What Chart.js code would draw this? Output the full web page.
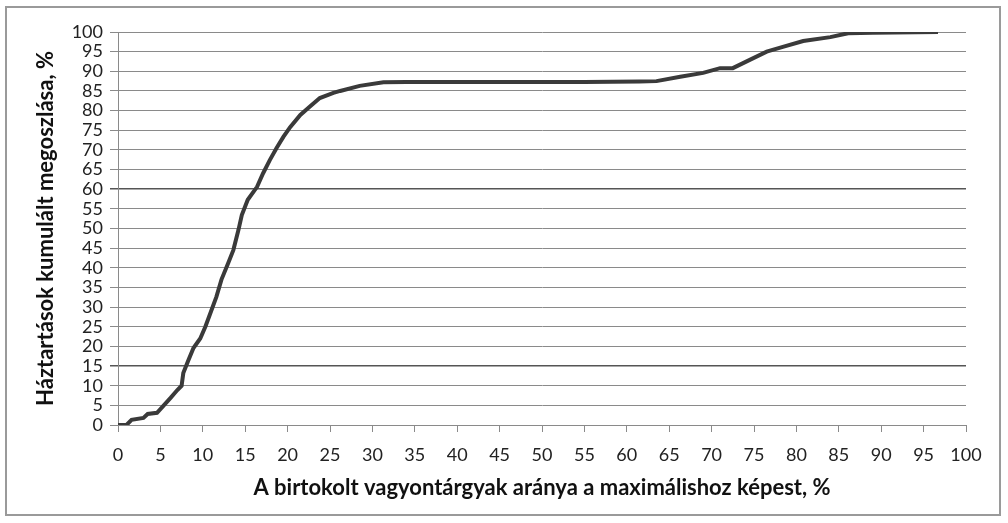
<!DOCTYPE html>
<html>
<head>
<meta charset="utf-8">
<script src="https://cdn.jsdelivr.net/npm/chart.js@4/dist/chart.umd.min.js"></script>
<style>
html,body{margin:0;padding:0;background:#fff;}
#wrap{position:relative;width:1008px;height:523px;}
#frame{position:absolute;left:5px;top:6px;width:996px;height:510px;border:2px solid #9a9a9a;box-sizing:border-box;pointer-events:none;}
canvas{position:absolute;left:0;top:0;}
</style>
</head>
<body>
<div id="wrap">
<canvas id="c" width="1008" height="523"></canvas>
<div id="frame"></div>
</div>
<script>
// Data
const shareOfMaxAssets = [0, 1, 1.6, 3, 3.5, 4.6, 5.4, 6.2, 7, 7.5, 7.7, 8.3, 8.9, 9.7, 10.3, 10.9, 11.6, 12.2, 13, 13.6, 14.2, 14.6, 15.3, 16.4, 17.1, 17.9, 18.7, 19.5, 20.3, 21.5, 22.6, 23.8, 25.4, 26.2, 28.5, 31.3, 34, 45, 55, 61.5, 63.5, 66.3, 69, 71, 72.5, 74.5, 76.5, 78.4, 80.8, 84, 86.1, 89, 96.7];
const cumulativeHouseholds = [0, 0, 1.3, 1.8, 2.8, 3.1, 5, 6.9, 8.9, 10, 13.2, 16.5, 19.6, 22, 25, 28.5, 32.6, 37, 41.2, 44.5, 49.6, 53.4, 57.3, 60.6, 64, 67.4, 70.5, 73.3, 75.8, 78.9, 81, 83.2, 84.5, 85, 86.3, 87.2, 87.3, 87.3, 87.3, 87.4, 87.5, 88.6, 89.6, 90.8, 90.8, 92.9, 95, 96.2, 97.7, 98.7, 99.7, 99.8, 100];
const xTickValues = [0,5,10,15,20,25,30,35,40,45,50,55,60,65,70,75,80,85,90,95,100];
const yTickValues = [0,5,10,15,20,25,30,35,40,45,50,55,60,65,70,75,80,85,90,95,100];
const xTitle = "A birtokolt vagyontárgyak aránya a maximálishoz képest, %";
const yTitle = "Háztartások kumulált megoszlása, %";

const points = shareOfMaxAssets.map((x, i) => ({x: x, y: cumulativeHouseholds[i]}));
const FONT = "Lato, 'Open Sans', sans-serif";

new Chart(document.getElementById('c'), {
  type: 'scatter',
  data: {
    datasets: [{
      data: points,
      showLine: true,
      borderColor: '#3a3a3a',
      borderWidth: 4,
      pointRadius: 0,
      tension: 0,
      fill: false
    }]
  },
  options: {
    responsive: false,
    animation: false,
    devicePixelRatio: 1,
    layout: {padding: {left: 0, top: 32, right: 42, bottom: 0}},
    plugins: {legend: {display: false}, tooltip: {enabled: false}},
    scales: {
      x: {
        type: 'linear',
        min: 0, max: 100,
        afterBuildTicks: s => { s.ticks = xTickValues.map(v => ({value: v})); },
        afterFit: s => { s.height = 98; },
        ticks: {color: '#222', font: {family: FONT, size: 18}, padding: 12, maxRotation: 0, autoSkip: false},
        grid: {display: true, drawOnChartArea: false, drawTicks: true, tickLength: 7, color: '#8a8a8a', lineWidth: 1},
        border: {display: true, color: '#8a8a8a', width: 1},
        title: {display: true, text: xTitle, color: '#111', font: {family: FONT, size: 22, weight: 'bold'}, padding: {top: 0, bottom: 22}}
      },
      y: {
        type: 'linear',
        min: 0, max: 100,
        afterBuildTicks: s => { s.ticks = yTickValues.map(v => ({value: v})); },
        afterFit: s => { s.width = 118; },
        ticks: {color: '#222', font: {family: FONT, size: 18}, padding: 7, autoSkip: false},
        grid: {
          drawOnChartArea: true, drawTicks: true, tickLength: 8,
          color: ctx => (ctx.tick && (ctx.tick.value === 60 || ctx.tick.value === 15)) ? '#555' : '#8a8a8a',
          lineWidth: ctx => (ctx.tick && (ctx.tick.value === 60 || ctx.tick.value === 15)) ? 1.5 : 1
        },
        border: {display: true, color: '#8a8a8a', width: 1},
        title: {display: true, text: yTitle, color: '#111', font: {family: FONT, size: 22, weight: 'bold'}, padding: {top: 33, bottom: 0}}
      }
    }
  }
});
</script>
</body>
</html>
